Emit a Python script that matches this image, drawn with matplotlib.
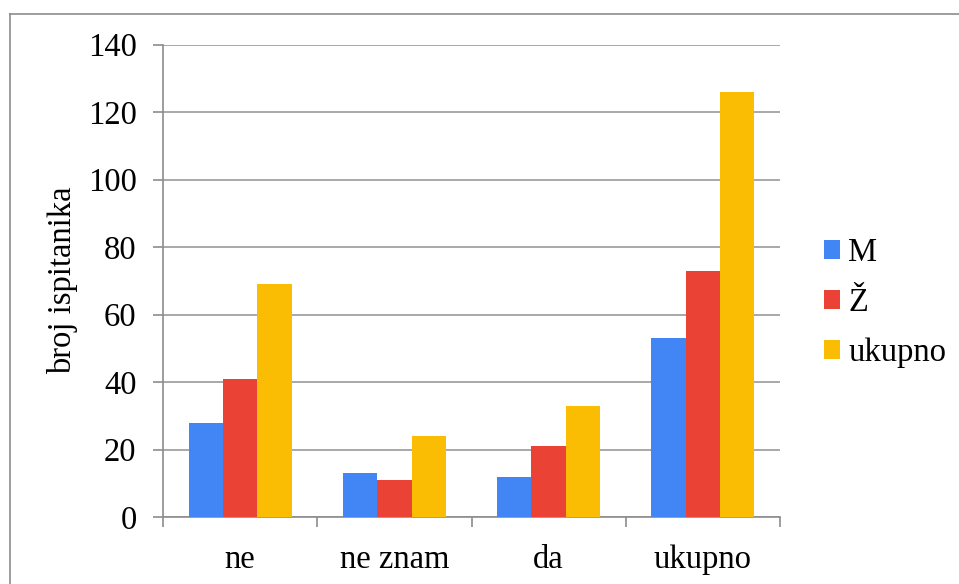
import numpy as np
import matplotlib
matplotlib.use('Agg')
import matplotlib.pyplot as plt
from matplotlib.lines import Line2D

categories = ['ne', 'ne znam', 'da', 'ukupno']
series = ['M', 'Ž', 'ukupno']
m_vals = [28, 13, 12, 53]
z_vals = [41, 11, 21, 73]
total_vals = [69, 24, 33, 126]
colors = ['#4285F4', '#EA4335', '#FBBC04']

plt.rcParams['font.family'] = ['Liberation Serif', 'DejaVu Serif']
plt.rcParams['font.size'] = 23.5

fig = plt.figure(figsize=(9.59, 5.84), dpi=100)
ax = fig.add_axes([163/959, 1-517/584, 617/959, 472.5/584])

x = np.arange(len(categories))
w = 0.223
for i, (vals, name) in enumerate(zip([m_vals, z_vals, total_vals], series)):
    ax.bar(x + (i-1)*w, vals, w, color=colors[i], label=name, zorder=3)

ax.set_xlim(-0.5, len(categories)-0.5)
ax.set_ylim(0, 140)
ax.set_yticks(range(0, 141, 20))
ax.set_xticks(x)
ax.set_xticklabels(categories)
ax.set_xticks(np.arange(-0.5, len(categories), 1), minor=True)
ax.tick_params(axis='x', which='major', length=0, pad=20)
ax.tick_params(axis='x', which='minor', length=7, color='#8c8c8c', width=1.2)
ax.tick_params(axis='y', length=7, color='#8c8c8c', width=1.2, pad=12)
ax.grid(axis='y', color='#999999', linewidth=1.2, zorder=0)

for s in ['top', 'right']:
    ax.spines[s].set_visible(False)
for s in ['left', 'bottom']:
    ax.spines[s].set_color('#8c8c8c')
    ax.spines[s].set_linewidth(1.2)

ax.set_ylabel('broj ispitanika')
ax.yaxis.set_label_coords(-0.138, 0.5)

ax.legend(loc='center left', bbox_to_anchor=(824/959, 1-303/584),
          bbox_transform=fig.transFigure, frameon=False, borderpad=0,
          borderaxespad=0, handlelength=0.5, handleheight=0.5,
          handletextpad=0.25, labelspacing=0.6)

# outer chart frame (only top and left visible)
fig.add_artist(Line2D([10/959, 10/959], [0, 1-14/584], color='#8c8c8c', lw=1.2, transform=fig.transFigure))
fig.add_artist(Line2D([10/959, 1], [1-14/584, 1-14/584], color='#8c8c8c', lw=1.2, transform=fig.transFigure))

fig.savefig('out.png', dpi=100)
